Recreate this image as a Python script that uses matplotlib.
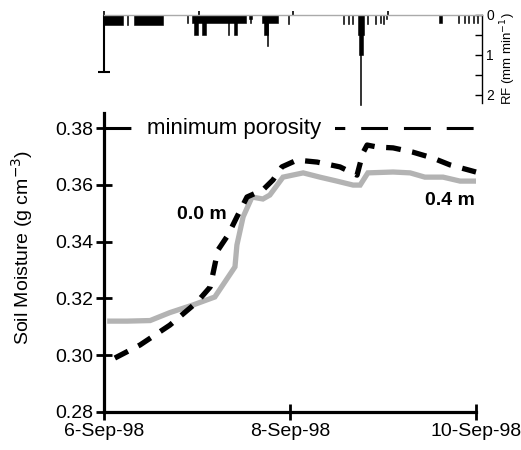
import matplotlib
matplotlib.use("Agg")
import matplotlib.pyplot as plt

plt.rcParams['font.family'] = ['Liberation Sans', 'DejaVu Sans']

# soil moisture, hours since 6-Sep-98 00:00
surf_hours = [2.8, 9.3, 17.0, 24.0, 27.4, 29.4, 32.0, 34.3, 36.9, 41.0, 43.6, 45.9,
              49.8, 55.0, 60.9, 65.3, 66.8, 67.9, 70.5, 74.6, 79.7, 84.9, 89.3, 96.0]
surf_sm = [0.2990, 0.3036, 0.3106, 0.3187, 0.3240, 0.3370, 0.3423, 0.3487, 0.3557,
           0.3582, 0.3617, 0.3663, 0.3687, 0.3680, 0.3663, 0.3634, 0.3712, 0.3740,
           0.3733, 0.3730, 0.3715, 0.3694, 0.3670, 0.3645]

deep_hours = [1.5, 6.0, 11.9, 17.0, 23.0, 28.6, 33.8, 34.3, 35.9, 38.2, 41.0, 42.8,
              46.2, 51.4, 55.7, 60.1, 64.3, 66.1, 68.1, 74.6, 79.0, 82.8, 87.5, 91.9, 96.0]
deep_sm = [0.3120, 0.3120, 0.3122, 0.3150, 0.3177, 0.3205, 0.3311, 0.3388, 0.3487,
           0.3557, 0.3550, 0.3564, 0.3627, 0.3642, 0.3627, 0.3613, 0.3599, 0.3599,
           0.3642, 0.3645, 0.3642, 0.3627, 0.3627, 0.3613, 0.3613]

min_porosity = 0.38

# rainfall periods (hours) and intensity (mm/min)
rain_start = [0.0, 5.8, 7.6, 21.1, 22.4, 22.9, 24.9, 31.5, 33.0, 36.8, 37.2, 40.1,
              40.6, 41.4, 46.7, 60.7, 62.0, 63.0, 64.5, 64.8, 65.0, 66.8, 68.8,
              70.1, 70.9, 71.6, 85.1, 89.9, 91.4, 92.5, 93.7, 94.7]
rain_end = [4.8, 6.1, 15.0, 21.4, 36.1, 23.9, 25.9, 31.8, 33.8, 37.6, 37.4, 44.2,
            41.7, 41.7, 47.0, 61.0, 62.3, 63.3, 66.0, 65.8, 65.3, 67.1, 69.1,
            70.4, 71.1, 71.8, 85.9, 90.2, 91.7, 92.7, 94.0, 95.1]
rain_rate = [0.25, 0.25, 0.25, 0.22, 0.22, 0.5, 0.5, 0.5, 0.5, 0.1, 0.22, 0.22,
             0.5, 0.78, 0.24, 0.24, 0.24, 0.24, 0.5, 1.0, 2.25, 0.24, 0.24,
             0.22, 0.24, 0.12, 0.22, 0.22, 0.22, 0.22, 0.22, 0.22]
spike_hour = 0.0
spike_rate = 1.43

day_ticks = [0, 48, 96]
day_labels = ['6-Sep-98', '8-Sep-98', '10-Sep-98']
sm_ticks = [0.28, 0.30, 0.32, 0.34, 0.36, 0.38]

fig = plt.figure(figsize=(5.21, 4.5), dpi=100)
W, H = 521, 450

# main soil moisture panel
ax = fig.add_axes([104 / W, 1 - 412 / H, 372 / W, 299 / H])
ax.plot(deep_hours, deep_sm, color='#b3b3b3', lw=3.8, solid_joinstyle='miter', zorder=2)
ax.plot(surf_hours, surf_sm, color='black', lw=3.8, dashes=(2.8, 2.2),
        dash_capstyle='butt', zorder=3, clip_on=False)
ax.axhline(min_porosity, color='black', lw=2.2, dashes=(8.8, 5.2), zorder=1)
ax.text(11.1, min_porosity, 'minimum porosity  ', fontsize=16, va='center', ha='left',
        bbox=dict(facecolor='white', edgecolor='none', pad=1), zorder=4)
ax.text(25.3, 0.3494, '0.0 m', fontsize=14, fontweight='bold', ha='center', va='center')
ax.text(89.3, 0.3546, '0.4 m', fontsize=14, fontweight='bold', ha='center', va='center')

ax.set_xlim(0, 96)
ax.set_ylim(0.28, 0.28 + 299 / 2840)
ax.set_xticks(day_ticks)
ax.set_xticklabels(day_labels)
ax.set_yticks(sm_ticks)
ax.set_yticklabels(['%.2f' % t for t in sm_ticks])
ax.tick_params(direction='inout', length=12, width=2, labelsize=14, pad=2)
for s in ['top', 'right']:
    ax.spines[s].set_visible(False)
for s in ['left', 'bottom']:
    ax.spines[s].set_linewidth(2.3)
ax.set_ylabel('Soil Moisture (g cm$^{-3}$)', fontsize=14)
ax.yaxis.set_label_coords(-0.185, 0.55)

# rainfall panel
rx = fig.add_axes([104 / W, 1 - 103 / H, 378 / W, 88.5 / H])
widths = [e - s for s, e in zip(rain_start, rain_end)]
rx.bar(rain_start, rain_rate, width=widths, align='edge', color='black',
       edgecolor='black', lw=0.4, clip_on=False)
rx.vlines(spike_hour, 0, spike_rate, color='black', lw=1.5, clip_on=False)
rx.plot(spike_hour, spike_rate, marker='_', ms=9, mew=1.5, color='black', clip_on=False)
rx.set_xlim(0, 96)
rx.set_ylim(2.2, 0)
rx.patch.set_alpha(0)
for s in ['left', 'bottom']:
    rx.spines[s].set_visible(False)
rx.spines['top'].set_color('#aaaaaa')
rx.spines['top'].set_linewidth(1)
rx.spines['right'].set_linewidth(1)
rx.xaxis.set_ticks_position('top')
rx.set_xticks([0, 24, 48, 72])
rx.tick_params(axis='x', direction='out', length=3, width=1.2, labeltop=False)
rx.yaxis.set_ticks_position('right')
rx.set_yticks([0, 1, 2])
rx.set_yticks([0.5, 1.5], minor=True)
rx.tick_params(axis='y', which='both', direction='in', length=5, width=1, labelsize=10, pad=3)
rx.yaxis.set_label_position('right')
rx.set_ylabel('RF (mm min$^{-1}$)', fontsize=9.5, labelpad=3)

fig.savefig('out.png', dpi=100)
